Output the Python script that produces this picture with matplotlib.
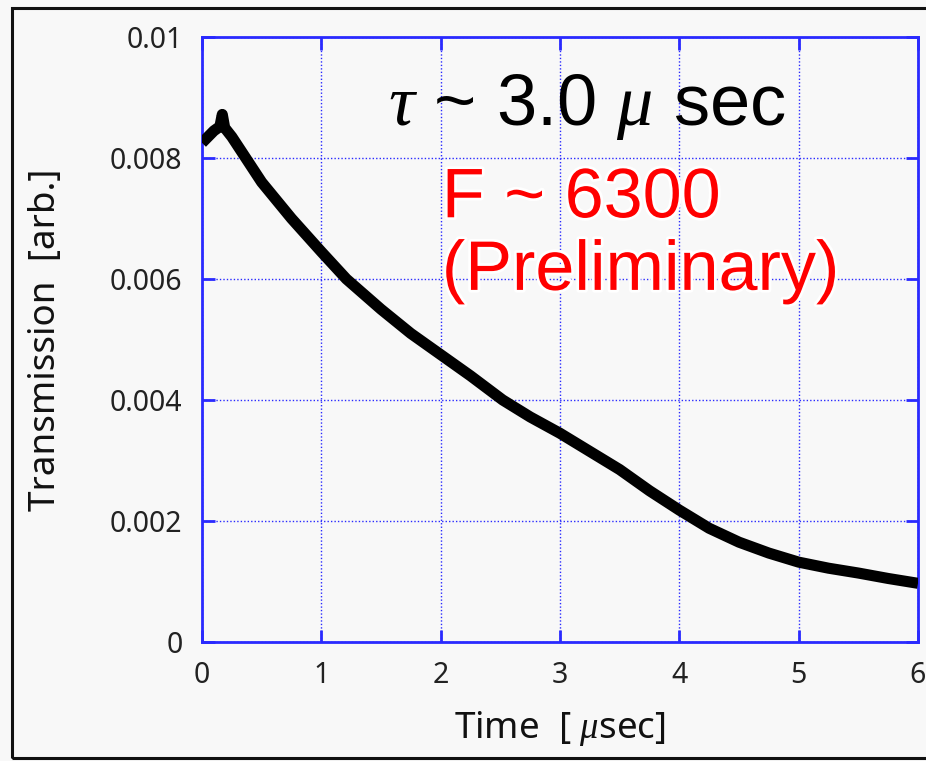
import matplotlib
matplotlib.use("Agg")
import matplotlib.pyplot as plt
import matplotlib.patheffects as pe
from matplotlib.patches import Rectangle

plt.rcParams['mathtext.fontset'] = 'custom'
plt.rcParams['mathtext.rm'] = 'Liberation Sans'
plt.rcParams['mathtext.it'] = 'Liberation Serif:italic'

# ---- data ----
time_us = [0.00, 0.05, 0.10, 0.15, 0.17, 0.19, 0.25, 0.30, 0.50, 0.75, 1.00, 1.21,
           1.50, 1.75, 2.00, 2.25, 2.52, 2.75, 3.00, 3.25, 3.50, 3.75, 4.00,
           4.25, 4.50, 4.75, 5.00, 5.25, 5.50, 5.75, 6.00]
transmission = [8.25e-3, 8.35e-3, 8.45e-3, 8.52e-3, 8.72e-3, 8.50e-3, 8.35e-3, 8.20e-3,
                7.60e-3, 7.00e-3, 6.45e-3, 6.00e-3, 5.50e-3, 5.10e-3, 4.75e-3, 4.40e-3,
                4.00e-3, 3.72e-3, 3.45e-3, 3.15e-3, 2.85e-3, 2.50e-3, 2.18e-3, 1.88e-3,
                1.65e-3, 1.47e-3, 1.32e-3, 1.22e-3, 1.14e-3, 1.05e-3, 0.97e-3]

x_ticks = [0, 1, 2, 3, 4, 5, 6]
x_tick_labels = ["0", "1", "2", "3", "4", "5", "6"]
y_ticks = [0, 0.002, 0.004, 0.006, 0.008, 0.01]
y_tick_labels = ["0", "0.002", "0.004", "0.006", "0.008", "0.01"]

x_label = r"Time  [ $\mu$sec]"
y_label = "Transmission  [arb.]"
tau_text = r"$\tau$ ~ 3.0 $\mu$ sec"
f_text = "F ~ 6300"
prelim_text = "(Preliminary)"

# ---- figure ----
W, H = 926, 761
bg = "#f8f8f8"
fig = plt.figure(figsize=(W / 100, H / 100), dpi=100, facecolor=bg)

# outer frame
fig.patches.append(Rectangle((12 / W, 1 - 758 / H), 1.0, (758 - 8) / H,
                             transform=fig.transFigure, fill=False,
                             edgecolor="#111111", linewidth=2.2))

L, R, T, B = 202, 918, 37, 642
ax = fig.add_axes([L / W, 1 - B / H, (R - L) / W, (B - T) / H], facecolor=bg)

blue = "#2a2aff"
ax.plot(time_us, transmission, color="black", linewidth=8,
        solid_joinstyle="round", solid_capstyle="butt", zorder=3)

ax.set_xlim(0, 6)
ax.set_ylim(0, 0.01)
ax.set_xticks(x_ticks)
ax.set_xticklabels(x_tick_labels)
ax.set_yticks(y_ticks)
ax.set_yticklabels(y_tick_labels)

ax.grid(True, color=blue, linestyle=(0, (1, 1.5)), linewidth=1.0)
for s in ax.spines.values():
    s.set_color(blue)
    s.set_linewidth(2.0)
ax.tick_params(direction="in", length=9, width=2, color=blue,
               top=True, right=True, labelsize=20.5, pad=14,
               labelcolor="#222222")
for lab in ax.get_xticklabels() + ax.get_yticklabels():
    lab.set_fontfamily("Noto Sans")

ax.set_xlabel(x_label, fontsize=26.5, family="Noto Sans", color="#111111")
ax.set_ylabel(y_label, fontsize=26.5, family="Noto Sans", color="#111111")
ax.xaxis.set_label_coords(0.5, (B - 728) / (B - T))
ax.xaxis.label.set_va("center")
ax.yaxis.set_label_coords((46 - L) / (R - L), 0.5)
ax.yaxis.label.set_va("center")

ax.text(1.56, 8.55e-3, tau_text, fontsize=52, family="Liberation Sans",
        color="black", ha="left", va="baseline", zorder=5)
halo = [pe.withStroke(linewidth=4, foreground="white")]
ax.text(2.01, 7.02e-3, f_text, fontsize=50.5, family="Liberation Sans",
        color="#ff0000", ha="left", va="baseline", path_effects=halo, zorder=5)
ax.text(2.01, 5.82e-3, prelim_text, fontsize=50.5, family="Liberation Sans",
        color="#ff0000", ha="left", va="baseline", path_effects=halo, zorder=5)

fig.savefig("out.png", dpi=100, facecolor=bg)
